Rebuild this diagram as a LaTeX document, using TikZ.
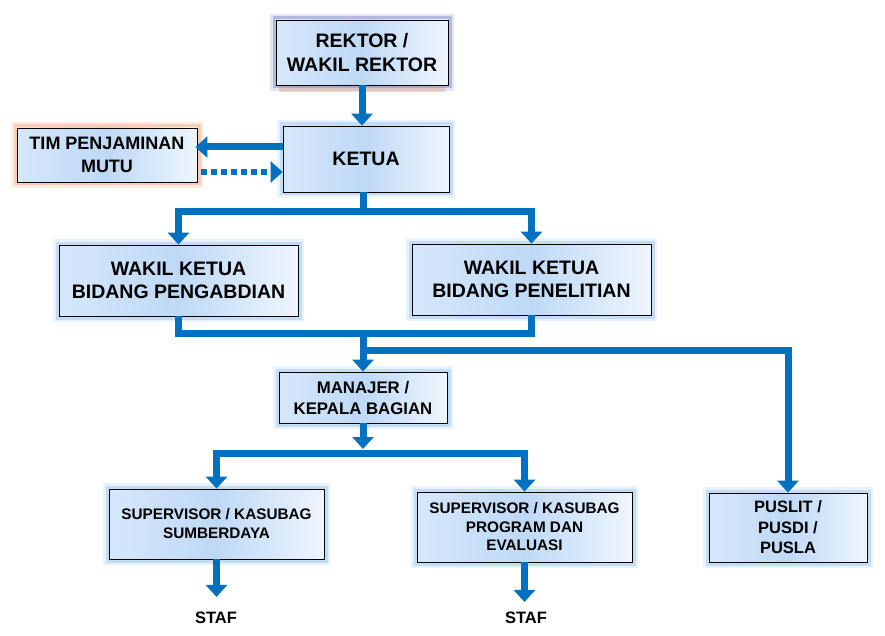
\documentclass[tikz,border=0pt]{standalone}
\usepackage{fontspec}
\setmainfont{Liberation Sans}
\usepackage{xcolor}
\usepackage{tikz}
\usetikzlibrary{arrows.meta, positioning, calc}
\pgfdeclarelayer{background}
\pgfsetlayers{background,main}

\definecolor{lienbleu}{RGB}{0,112,192}
\definecolor{fondg}{RGB}{214,231,250}
\definecolor{fondm}{RGB}{190,217,246}
\definecolor{fondd}{RGB}{238,245,253}
\definecolor{halobleu}{RGB}{150,195,240}
\definecolor{haloviolet}{RGB}{120,135,205}
\definecolor{haloorange}{RGB}{244,170,120}

\tikzset{
  boite/.style={draw=black, line width=0.8pt, align=center, inner sep=0pt,
    left color=fondg, right color=fondd, middle color=fondm,
    font=\bfseries\fontsize{19.5}{23.5}\selectfont},
  halo/.style={preaction={draw=#1, line width=12pt, opacity=0.22},
    preaction={draw=#1, line width=7pt, opacity=0.45}},
  trait/.style={draw=lienbleu, line width=7pt},
  lien/.style={trait, -{Triangle[width=21pt,length=12pt]}},
  lienpointille/.style={lien, line width=6pt, dash pattern=on 6pt off 4pt},
  staf/.style={inner sep=0pt, font=\bfseries\fontsize{16.5}{20}\selectfont}
}

\begin{document}
\begin{tikzpicture}[x=1pt, y=-1pt]
  \useasboundingbox (0,0) rectangle (885,636);

  % Boites
  \node[boite, halo=haloviolet, minimum width=172pt, minimum height=65pt] (rektor) at (362,52.5) {REKTOR /\\WAKIL REKTOR};
  \node[boite, halo=halobleu, minimum width=166pt, minimum height=66pt] (ketua) at (366,159) {KETUA};
  \node[boite, halo=haloorange, minimum width=180pt, minimum height=54pt, font=\bfseries\fontsize{18}{23}\selectfont] (tim) at (107,155) {TIM PENJAMINAN\\MUTU};
  \node[boite, halo=halobleu, minimum width=239pt, minimum height=71pt] (pengabdian) at (178.5,280.5) {WAKIL KETUA\\BIDANG PENGABDIAN};
  \node[boite, halo=halobleu, minimum width=239pt, minimum height=71pt] (penelitian) at (531.5,279.5) {WAKIL KETUA\\BIDANG PENELITIAN};
  \node[boite, halo=halobleu, minimum width=168pt, minimum height=51pt, font=\bfseries\fontsize{16.8}{21}\selectfont] (manajer) at (363,397.5) {MANAJER /\\KEPALA BAGIAN};
  \node[boite, halo=halobleu, minimum width=215pt, minimum height=70pt, font=\bfseries\fontsize{15.3}{19}\selectfont] (sumberdaya) at (216.5,524) {SUPERVISOR / KASUBAG\\SUMBERDAYA};
  \node[boite, halo=halobleu, minimum width=215pt, minimum height=70pt, font=\bfseries\fontsize{15.3}{18.5}\selectfont] (program) at (524.5,527) {SUPERVISOR / KASUBAG\\PROGRAM DAN\\EVALUASI};
  \node[boite, halo=halobleu, minimum width=158pt, minimum height=69pt, font=\bfseries\fontsize{16.5}{20.5}\selectfont] (puslit) at (788,527.5) {PUSLIT /\\PUSDI /\\PUSLA};
  \node[staf] (staf1) at (216,618) {STAF};
  \node[staf] (staf2) at (526,618) {STAF};

  % Ombre
  \begin{pgfonlayer}{background}
    \fill[haloorange, opacity=0.45] ([xshift=3pt,yshift=-7pt]rektor.south west) rectangle ([xshift=-3pt]rektor.east);
  \end{pgfonlayer}

  % Points de jonction
  \coordinate (k1) at (363,212);
  \coordinate (j1) at (363,333);
  \coordinate (j2) at (363,350);
  \coordinate (m1) at (363,453);

  % Liaisons
  \draw[lien] (rektor.south) -- (rektor.south |- ketua.north);
  \draw[lien, shorten >=-2pt] ([yshift=12pt]ketua.west) -- ([yshift=12pt]ketua.west -| tim.east);
  \draw[lienpointille, shorten <=4pt] ([yshift=-13pt]ketua.west -| tim.east) -- ([yshift=-13pt]ketua.west);
  \draw[trait] (k1 |- ketua.south) -- (k1);
  \draw[lien] (k1) -| (pengabdian.north);
  \draw[lien] (k1) -| (penelitian.north);
  \draw[trait] (pengabdian.south) -- (pengabdian.south |- j1) -- (penelitian.south |- j1) -- (penelitian.south);
  \draw[lien] (j1) -- (manajer.north);
  \draw[lien] (j2) -| (puslit.north);
  \draw[lien, shorten >=4pt] (manajer.south) -- (m1);
  \draw[lien] (m1) -| (sumberdaya.north);
  \draw[lien] (m1) -| (program.north);
  \draw[lien, shorten >=15pt] (sumberdaya.south) -- (sumberdaya.south |- staf1.north);
  \draw[lien, shorten >=10pt] (program.south) -- (program.south |- staf2.north);

\end{tikzpicture}
\end{document}
